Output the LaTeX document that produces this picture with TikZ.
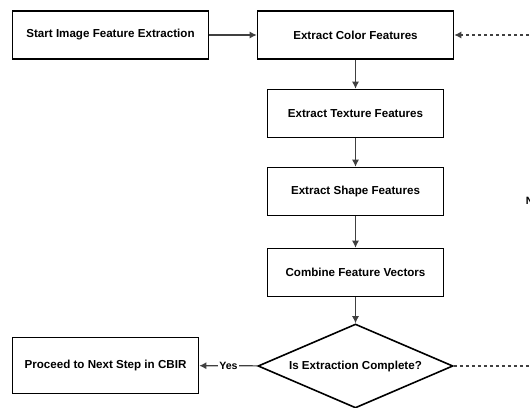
\documentclass[tikz,border=0pt]{standalone}
\usepackage{fontspec}
\setsansfont{Liberation Sans}
\usepackage{tikz}
\usetikzlibrary{shapes, arrows, arrows.meta}

\begin{document}
\begin{tikzpicture}[x=1pt, y=-1pt,
    box/.style={draw=black, line width=1.6pt, fill=white, inner sep=0pt,
        minimum width=176pt, minimum height=48pt,
        font=\sffamily\bfseries\fontsize{11.6}{14}\selectfont},
    decision/.style={box, diamond, aspect=2.32, minimum width=195pt, minimum height=84pt},
    flow/.style={draw=black!75, line width=1.1pt, -{Latex[length=7pt,width=7pt]}},
    loopback/.style={flow, dash pattern=on 3pt off 3pt},
    tag/.style={fill=white, inner sep=1.2pt, font=\sffamily\bfseries\fontsize{10.6}{12}\selectfont}]
        \pgfmathsetmacro{\colx}{355.5}
        \pgfmathsetmacro{\loopx}{533}
        \clip (0,0) rectangle (530,407);
        
        \node[box, minimum width=196pt] (start) at (110.5,35) {Start Image Feature Extraction};
        \node[box, minimum width=196pt] (color) at (\colx,35) {Extract Color Features};
        \node[box] (texture) at (\colx,113.5) {Extract Texture Features};
        \node[box] (shape) at (\colx,191.5) {Extract Shape Features};
        \node[box] (combine) at (\colx,272.5) {Combine Feature Vectors};
        \node[decision] (check) at (\colx,366) {Is Extraction Complete?};
        \node[box, minimum width=186pt, minimum height=56pt] (proceed) at (105.5,365.5) {Proceed to Next Step in CBIR};
        \coordinate (loopbot) at (\loopx,366);
        \coordinate (looptop) at (\loopx,35);
        
        \draw[flow] (start) -- (color);
        \draw[flow] (color) -- (texture);
        \draw[flow] (texture) -- (shape);
        \draw[flow] (shape) -- (combine);
        \draw[flow] (combine) -- (check);
        \draw[flow] (check) -- node[tag]{Yes} (proceed);
        \draw[loopback] (check.east) -- (loopbot) -- node[tag]{No} (looptop) -- (color.east);
        
    \end{tikzpicture}
\end{document}
